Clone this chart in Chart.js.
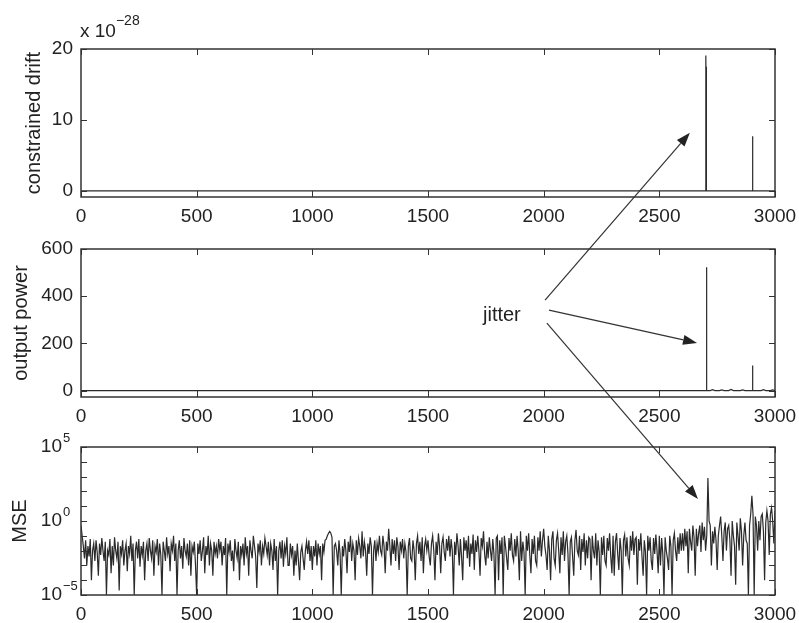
<!DOCTYPE html>
<html><head><meta charset="utf-8">
<script src="https://cdn.jsdelivr.net/npm/chart.js@4.4.1/dist/chart.umd.min.js"></script>
<style>
html,body{margin:0;padding:0;background:#fff;}
#wrap{position:relative;width:799px;height:623px;overflow:hidden;font-family:"Liberation Sans",Arial,sans-serif;color:#222;}
canvas{position:absolute;left:0;}
#c1{top:0}#c2{top:225px}#c3{top:425px}#ov{top:0;pointer-events:none}
.lbl{position:absolute;white-space:nowrap;line-height:20px;}
</style></head><body>
<div id="wrap">
<canvas id="c1" width="799" height="225"></canvas>
<canvas id="c2" width="799" height="200"></canvas>
<canvas id="c3" width="799" height="198"></canvas>
<canvas id="ov" width="799" height="623"></canvas>
<div class="lbl" style="left:80px;top:21px;font-size:19px;">x 10<span style="position:relative;top:-12px;font-size:14px;">−28</span></div>
<div class="lbl" style="left:483px;top:304px;font-size:20px;">jitter</div>
</div>
<script>
// ---- data ----
const xTicks = [0, 500, 1000, 1500, 2000, 2500, 3000];
const driftTicks = [0, 10, 20];
const powerTicks = [0, 200, 400, 600];
const mseDecadeTicks = [1e-5, 1e-4, 1e-3, 1e-2, 1e-1, 1, 1e1, 1e2, 1e3, 1e4, 1e5];
const mseLabelTicks = [1e-5, 1, 1e5];
const mseLabelExps = ['−5', '0', '5'];

// constrained drift (x 1e-28)
const driftX = [0, 2700, 2701, 2702, 2703, 2704, 2902, 2903, 2904, 3000];
const driftY = [0, 0, 19.1, 14, 17.5, 0, 0, 7.7, 0, 0];

// output power
const powerX = [0, 2702, 2703, 2704, 2705, 2706, 2720, 2730, 2740, 2760, 2770, 2780, 2800, 2810, 2820, 2850, 2860, 2870, 2902, 2903, 2904, 2940, 2950, 2960, 2980, 2990, 3000];
const powerY = [0, 0, 523, 128, 391, 0, 0, 4, 0, 0, 3, 0, 0, 5, 0, 0, 3, 0, 0, 106, 0, 0, 4, 0, 0, 3, 0];

// MSE, one value every mseStep samples
const mseStep = 5;
const mseValues = [
 5e-1,1e-1,2e-2,3e-3,5e-2,1e-3,2e-2,4e-3,6e-2,1e-4,1e-2,3e-2,2e-3,5e-2,8e-3,2e-4,3e-2,5e-3,7e-2,1e-2,
 2e-3,4e-2,1e-5,1e-2,5e-3,6e-2,3e-4,2e-2,1e-3,8e-2,1e-2,3e-3,4e-2,2e-5,2e-2,6e-3,5e-2,1e-3,1e-2,3e-2,
 4e-4,2e-2,6e-3,1e-1,2e-3,3e-2,1e-5,1e-2,4e-2,3e-3,6e-2,8e-4,2e-2,5e-3,4e-2,1e-4,1e-2,3e-2,2e-3,7e-2,
 1e-2,3e-3,5e-2,2e-4,2e-2,8e-3,6e-2,1e-3,3e-2,5e-3,1e-5,4e-2,1e-2,2e-3,8e-2,6e-3,2e-2,4e-4,3e-2,1e-2,
 1e-1,2e-3,3e-2,1e-5,1e-2,5e-2,3e-3,2e-2,6e-4,7e-2,1e-2,4e-3,3e-2,1e-3,5e-2,2e-4,2e-2,8e-3,4e-2,1e-3,
 1e-5,3e-2,6e-3,5e-2,2e-3,1e-2,8e-2,3e-4,2e-2,5e-3,1e-1,1e-3,3e-2,1e-2,2e-4,4e-2,6e-3,2e-2,3e-3,6e-2,
 1e-2,4e-2,1e-3,2e-2,5e-3,7e-2,1e-5,3e-2,8e-3,5e-2,2e-3,1e-2,4e-4,6e-2,1e-2,3e-3,4e-2,1e-4,2e-2,5e-3,
 3e-2,1e-3,8e-2,6e-3,2e-2,2e-4,5e-2,1e-2,3e-3,1e-1,2e-2,4e-3,3e-5,3e-2,8e-3,5e-2,1e-3,2e-2,6e-3,7e-2,
 2e-2,5e-3,4e-2,1e-3,3e-2,1e-2,5e-4,6e-2,2e-3,2e-2,1e-5,1e-2,4e-2,3e-3,5e-2,8e-4,2e-2,6e-3,8e-2,1e-3,
 1e-3,3e-2,5e-3,2e-2,2e-4,1e-2,1e-3,3e-2,2e-3,1e-4,8e-3,2e-2,3e-3,5e-4,1e-2,4e-2,6e-3,5e-2,2e-3,2e-2,
 5e-4,2e-2,4e-3,5e-2,1e-3,3e-2,6e-3,2e-2,1e-4,3e-2,8e-3,5e-2,6e-2,1e-1,1.5e-1,2e-1,1.5e-1,8e-2,1e-5,2e-2,
 3e-2,1e-2,1e-3,5e-2,6e-3,1e-5,2e-2,4e-3,6e-2,1e-2,3e-4,4e-2,8e-3,1e-1,2e-3,3e-2,1e-2,1e-4,5e-2,5e-3,
 7e-2,2e-2,3e-3,2e-1,4e-3,4e-2,1e-2,2e-4,3e-2,6e-3,8e-2,2e-2,1e-5,1e-2,5e-2,2e-3,3e-2,8e-3,1e-1,1e-2,
 5e-3,1e-1,2e-2,3e-4,4e-2,1e-2,3e-1,2e-2,1e-3,6e-2,6e-3,5e-2,2e-3,8e-2,2e-2,5e-4,4e-2,1e-2,6e-2,3e-3,
 3e-2,8e-3,1e-5,2e-2,7e-2,3e-3,2e-3,5e-2,1e-2,1e-4,3e-2,1e-1,6e-3,4e-2,2e-3,8e-2,3e-4,2e-2,6e-2,1e-2,
 5e-2,4e-3,1e-3,3e-2,1e-1,1e-2,1e-4,4e-2,5e-3,1.5e-1,2e-2,3e-4,3e-2,8e-2,8e-3,2e-3,6e-2,1e-2,1e-1,4e-3,
 6e-2,1e-2,1e-5,4e-2,5e-3,1.5e-1,2e-2,1e-3,6e-2,4e-3,1e-4,8e-2,1e-2,5e-2,3e-3,1e-1,8e-4,3e-2,6e-3,1.2e-1,
 5e-4,5e-2,8e-3,1e-1,1e-2,2e-4,7e-2,2e-2,2e-1,5e-3,1e-3,4e-2,3e-3,8e-2,1e-2,2e-3,6e-2,6e-3,1e-5,7e-2,
 1e-1,1e-4,5e-2,6e-3,8e-2,1e-5,1e-1,2e-2,3e-3,5e-4,7e-2,1e-2,1.5e-1,5e-3,2e-3,6e-2,4e-3,1e-1,1e-2,1e-4,
 2e-1,2e-3,4e-2,8e-3,1e-5,1e-1,1e-2,1.5e-1,5e-3,3e-4,6e-2,6e-3,1e-1,2e-3,1e-3,8e-2,1e-2,2e-1,4e-3,5e-2,
 3e-1,2e-2,5e-3,5e-4,1e-1,1e-2,1e-4,6e-2,2e-1,3e-3,1e-3,5e-2,1.5e-1,1e-2,3e-4,8e-2,5e-3,2e-1,2e-3,4e-2,
 1e-1,6e-3,1e-5,4e-2,8e-2,4e-3,2e-4,5e-2,2.5e-1,1e-2,5e-3,1e-1,5e-4,6e-2,8e-3,1.5e-1,1e-3,5e-2,3e-3,8e-2,
 6e-2,1e-4,1e-1,1e-2,3e-3,1.5e-1,1e-3,5e-2,8e-3,1e-5,8e-2,5e-3,1e-1,2e-3,1e-3,7e-2,1e-2,1.5e-1,4e-3,3e-4,
 1e-1,2e-4,4e-2,1.5e-1,6e-3,5e-4,7e-2,1e-2,1e-5,5e-2,1.2e-1,4e-3,8e-2,3e-3,1e-3,1e-1,1e-2,2e-1,5e-3,6e-2,
 8e-2,5e-5,6e-2,1e-2,1.5e-1,4e-3,2e-4,5e-2,8e-3,1e-5,1e-1,1e-2,8e-2,2e-3,5e-4,7e-2,6e-3,1.2e-1,1e-2,3e-4,
 1e-1,1e-3,7e-2,6e-3,1e-5,8e-2,1e-2,3e-3,5e-4,1e-1,2e-2,1e-5,5e-2,1.5e-1,1e-2,2e-3,8e-2,6e-3,1.5e-1,1e-2,
 1.5e-1,1e-2,3e-1,2e-2,2e-1,3e-4,3e-1,4e-2,1e-2,5e-1,8e-2,2e-4,3e-1,2e-2,1.5e-1,5e-1,8e-3,8e-1,5e-2,4e-1,
 1e-2,1e-1,8e2,1e0,5e-1,1e-3,2e-1,3e-2,4e-1,5e-2,5e-4,1e-1,5e-1,2e0,1e-1,2e-3,2e-1,8e-1,1e-2,3e-1,
 5e-1,5e-2,2e-4,1e0,1e-1,2e-2,5e-5,8e-1,1e-1,1e-2,1.5e0,2e-1,1e-3,1e-1,8e-1,5e-2,3e-2,1e-5,5e-1,3e0,
 5e1,3e0,1e-5,2e0,5e-1,1e-2,1e0,5e-2,2e0,3e0,2e-1,1e-4,8e-1,5e0,1e0,5e-3,3e0,8e0,1e0,3e-2,
 5e0
];

// "jitter" annotation arrows: start in output-power data coords, tip in target plot data coords
const jitterStarts = [[2006, 383], [2023, 341], [2014, 286]];
const jitterTips = [[0, 2632, 8.2], [1, 2663, 202], [2, 2667, 31]];

// ---- rendering ----
Chart.defaults.font.family = '"Liberation Sans", Arial, sans-serif';
Chart.defaults.color = '#222';

const frameTicks = {
  id: 'frameTicks',
  afterDatasetsDraw(chart) {
    const {ctx, chartArea: a, scales: {x, y}} = chart;
    const L = 6;
    ctx.save();
    ctx.strokeStyle = '#333';
    ctx.lineWidth = 1;
    ctx.beginPath();
    x.ticks.forEach(t => {
      const p = Math.round(x.getPixelForValue(t.value)) + 0.5;
      ctx.moveTo(p, a.bottom); ctx.lineTo(p, a.bottom - L);
      ctx.moveTo(p, a.top); ctx.lineTo(p, a.top + L);
    });
    y.ticks.forEach(t => {
      const p = Math.round(y.getPixelForValue(t.value)) + 0.5;
      ctx.moveTo(a.left, p); ctx.lineTo(a.left + L, p);
      ctx.moveTo(a.right, p); ctx.lineTo(a.right - L, p);
    });
    ctx.stroke();
    ctx.lineWidth = 1.5;
    ctx.strokeRect(a.left, a.top, a.right - a.left, a.bottom - a.top);
    ctx.restore();
  }
};

const expLabels = {
  id: 'expLabels',
  afterDraw(chart) {
    if (!chart.options.plugins.expLabels || !chart.options.plugins.expLabels.on) return;
    const {ctx, scales: {y}} = chart;
    ctx.save();
    ctx.fillStyle = '#222';
    ctx.font = '13px "Liberation Sans", Arial, sans-serif';
    ctx.textAlign = 'left';
    ctx.textBaseline = 'middle';
    mseLabelTicks.forEach((v, i) => {
      const p = y.getPixelForValue(v);
      ctx.fillText(mseLabelExps[i], y.right - 18, p - 9);
    });
    ctx.restore();
  }
};

function makeChart(id, o) {
  return new Chart(document.getElementById(id), {
    type: 'line',
    data: { datasets: [{ data: o.data, borderColor: o.color || '#2b2b2b', borderWidth: o.bw || 1, pointRadius: 0, tension: 0, fill: false }] },
    options: {
      responsive: false, animation: false, devicePixelRatio: 1,
      layout: { padding: { top: o.top, right: 24, left: 0, bottom: 0 } },
      plugins: { legend: { display: false }, tooltip: { enabled: false }, expLabels: { on: !!o.exp } },
      scales: {
        x: {
          type: 'linear', min: 0, max: 3000,
          grid: { display: false, drawTicks: false }, border: { display: false },
          ticks: { padding: 8, font: { size: 19 }, color: '#222', maxRotation: 0, autoSkip: false, callback: v => String(v) },
          afterBuildTicks: s => { s.ticks = xTicks.map(v => ({ value: v })); },
          afterFit: s => { s.height = 28; s.paddingLeft = 0; s.paddingRight = 0; }
        },
        y: Object.assign({
          grid: { display: false, drawTicks: false }, border: { display: false },
          title: { display: true, text: o.title, font: { size: 20 }, color: '#222', padding: { top: o.tp, bottom: 0 } },
          ticks: { padding: o.tickPad || 8, font: { size: 19 }, color: '#222', autoSkip: false, callback: o.cb || (v => String(v)) },
          afterBuildTicks: s => { s.ticks = o.ticks.map(v => ({ value: v })); },
          afterFit: s => { s.width = 81; s.paddingTop = 0; s.paddingBottom = 0; }
        }, o.y)
      }
    },
    plugins: [frameTicks, expLabels]
  });
}

const c1 = makeChart('c1', {
  top: 49, title: 'constrained drift', tp: 22, ticks: driftTicks,
  y: { type: 'linear', min: -0.85, max: 20 },
  data: driftX.map((x, i) => ({ x, y: driftY[i] })), bw: 1.2
});
const c2 = makeChart('c2', {
  top: 24, title: 'output power', tp: 9, ticks: powerTicks,
  y: { type: 'linear', min: -27, max: 600 },
  data: powerX.map((x, i) => ({ x, y: powerY[i] })), bw: 1.2
});
const c3 = makeChart('c3', {
  top: 22, title: 'MSE', tp: 8, ticks: mseDecadeTicks, tickPad: 19, exp: true,
  cb: v => (mseLabelTicks.includes(v) ? '10' : ''),
  y: { type: 'logarithmic', min: 1e-5, max: 1e5 },
  data: mseValues.map((v, i) => ({ x: i * mseStep, y: v })), bw: 1.2, color: '#2a2a2a'
});

// overlay arrows
(function () {
  const charts = [c1, c2, c3];
  const ov = document.getElementById('ov');
  const ctx = ov.getContext('2d');
  const pt = (ci, x, y) => {
    const ch = charts[ci];
    return [ch.scales.x.getPixelForValue(x), ch.canvas.offsetTop + ch.scales.y.getPixelForValue(y)];
  };
  ctx.strokeStyle = '#333';
  ctx.fillStyle = '#222';
  ctx.lineWidth = 1.2;
  jitterStarts.forEach((s, i) => {
    const [x0, y0] = pt(1, s[0], s[1]);
    const t = jitterTips[i];
    const [x1, y1] = pt(t[0], t[1], t[2]);
    const ang = Math.atan2(y1 - y0, x1 - x0);
    const hl = 14, hw = 5;
    const bx = x1 - hl * Math.cos(ang), by = y1 - hl * Math.sin(ang);
    ctx.beginPath();
    ctx.moveTo(x0, y0); ctx.lineTo(bx, by);
    ctx.stroke();
    ctx.beginPath();
    ctx.moveTo(x1, y1);
    ctx.lineTo(bx + hw * Math.sin(ang), by - hw * Math.cos(ang));
    ctx.lineTo(bx - hw * Math.sin(ang), by + hw * Math.cos(ang));
    ctx.closePath();
    ctx.fill();
  });
})();
</script>
</body></html>
